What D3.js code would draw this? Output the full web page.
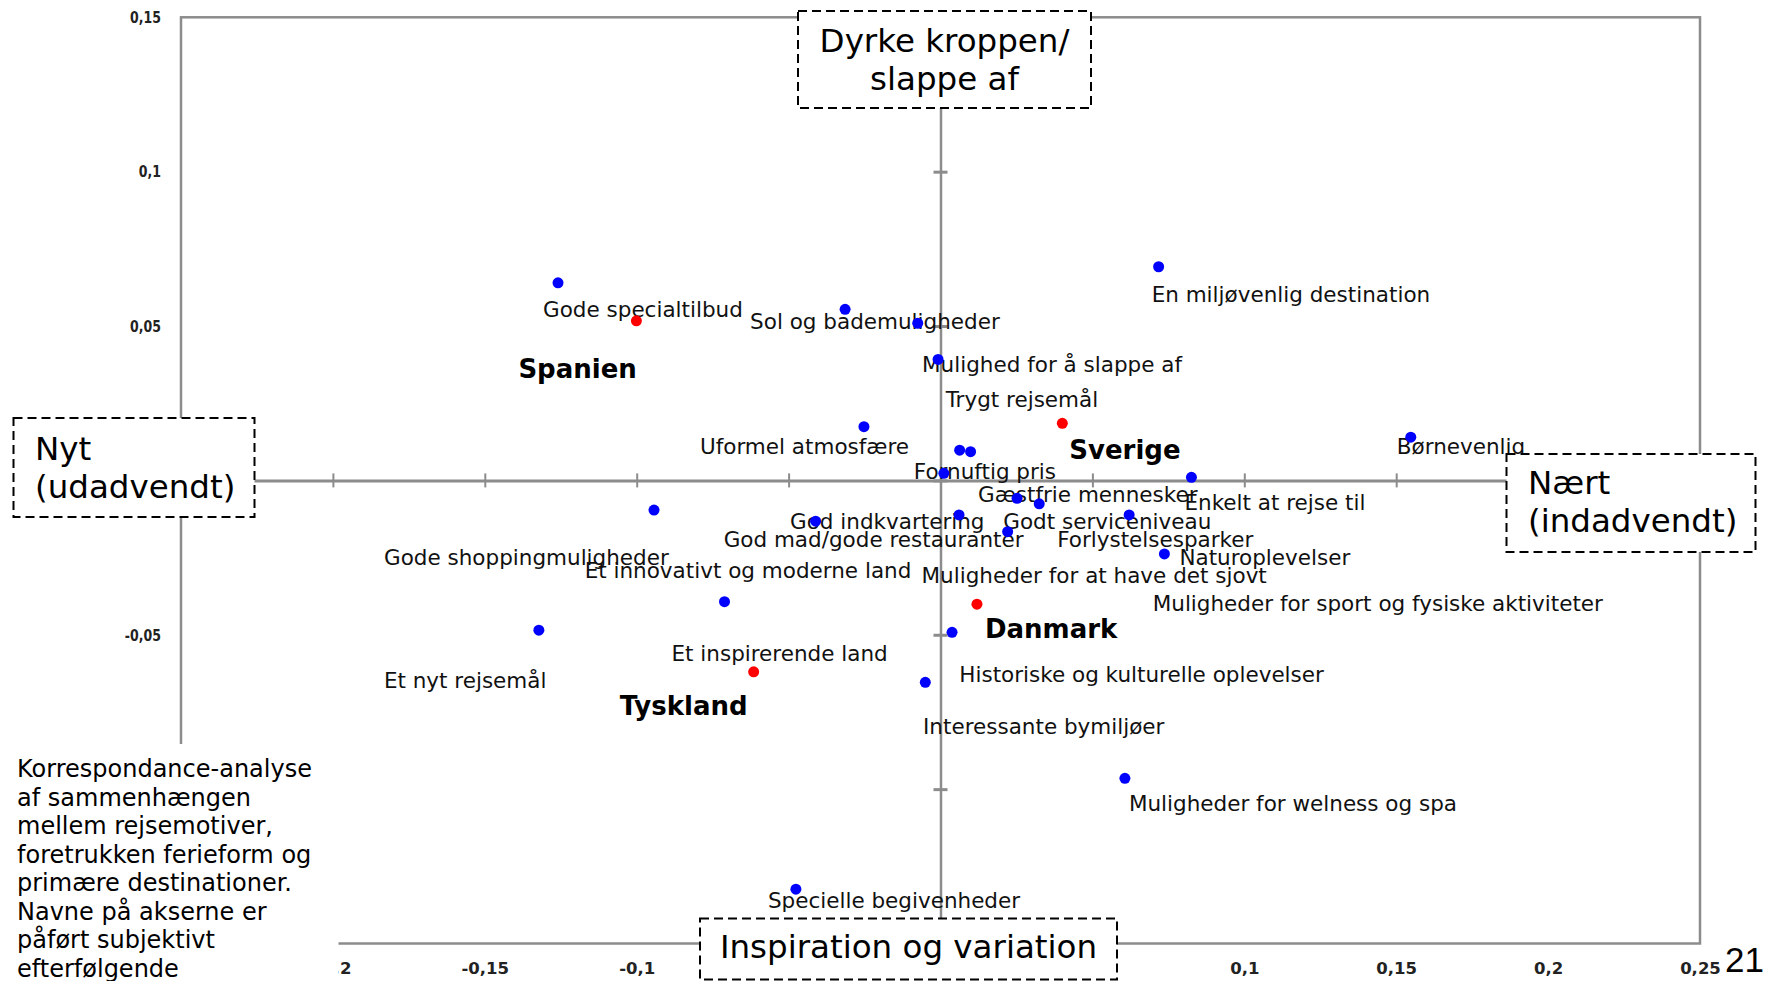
<!DOCTYPE html>
<html>
<head>
<meta charset="utf-8">
<script src="https://cdn.jsdelivr.net/npm/d3@7"></script>
<style>
body { margin: 0; background: #fff; }
text { font-family: "DejaVu Sans", Verdana, sans-serif; }
</style>
</head>
<body>
<svg id="chart" width="1771" height="981"></svg>
<script>
// rejsemotiver (blue points)
const motiveNames = [
    "Gode specialtilbud", "Sol og bademuligheder", "Mulighed for å slappe af",
    "En miljøvenlig destination", "Trygt rejsemål", "Uformel atmosfære",
    "Fornuftig pris", "Gæstfrie mennesker", "Enkelt at rejse til",
    "God indkvartering", "Godt serviceniveau", "God mad/gode restauranter",
    "Forlystelsesparker", "Naturoplevelser", "Gode shoppingmuligheder",
    "Et innovativt og moderne land", "Muligheder for at have det sjovt",
    "Muligheder for sport og fysiske aktiviteter", "Et inspirerende land",
    "Et nyt rejsemål", "Historiske og kulturelle oplevelser",
    "Interessante bymiljøer", "Muligheder for welness og spa",
    "Specielle begivenheder", "Børnevenlig"
];
const motiveX = [-0.1259, -0.0314, -0.0008, 0.0718, 0.0063, -0.0252, 0.0011, 0.0252, 0.0826,
    0.0061, 0.0325, 0.0221, 0.0621, 0.0737, -0.0943, -0.0411, 0.0099, -0.0075, -0.0711,
    -0.1322, -0.0050, 0.0038, 0.0607, -0.0476, 0.1548];
const motiveY = [0.0640, 0.0554, 0.0392, 0.0692, 0.0098, 0.0174, 0.0023, -0.0058, 0.0010,
    -0.0112, -0.0076, -0.0166, -0.0112, -0.0238, -0.0096, -0.0132, 0.0093, 0.0509, -0.0393,
    -0.0485, -0.0654, -0.0492, -0.0965, -0.1324, 0.0140];

// destinationer (red points)
const countryNames = ["Spanien", "Sverige", "Danmark", "Tyskland"];
const countryX = [-0.1001, 0.0401, 0.0120, -0.0615];
const countryY = [0.0517, 0.0185, -0.0401, -0.0620];

const xTicks = [-0.25, -0.2, -0.15, -0.1, -0.05, 0, 0.05, 0.1, 0.15, 0.2, 0.25];
const yTicks = [-0.15, -0.1, -0.05, 0, 0.05, 0.1, 0.15];

// label placement, pixels from the point
const motiveLabelOffset = [[-15, 34], [-95, 20], [-16, 13], [-7, 35], [-14, -43], [-164, 27],
    [-30, 6], [-39, 4], [-7, 33], [-169, 14], [-36, 25], [-284, 15], [-72, 32], [15, 11],
    [-270, 55], [-231, 57], [-49, 131], [235, 288], [-53, 59], [-155, 58], [34, 0],
    [-29, 102], [4, 33], [-28, 19], [-14, 17]];
const countryLabelOffset = [[-118, 57], [7, 36], [8, 34], [-134, 43]];

const noteLines = ["Korrespondance-analyse", "af sammenhængen", "mellem rejsemotiver,",
    "foretrukken ferieform og", "primære destinationer.", "Navne på akserne er",
    "påført subjektivt", "efterfølgende"];

const svg = d3.select('#chart');
const grey = '#8c8c8c';

const x = d3.scaleLinear().domain([-0.25, 0.25]).range([181, 1700]);
const y = d3.scaleLinear().domain([-0.15, 0.15]).range([943.5, 17.3]);

const locale = d3.formatLocale({decimal: ",", thousands: ".", grouping: [3], currency: ["", ""], minus: "-"});
const fmt = locale.format(".2~f");

// frame
svg.append('rect')
    .attr('x', x(-0.25)).attr('y', y(0.15))
    .attr('width', x(0.25) - x(-0.25)).attr('height', y(-0.15) - y(0.15))
    .attr('fill', 'none').attr('stroke', grey).attr('stroke-width', 2.5);

// axes through zero
const hAxis = svg.append('g')
    .attr('transform', 'translate(0,' + y(0) + ')')
    .call(d3.axisBottom(x).tickValues(xTicks).tickSizeOuter(0).tickFormat(''));
hAxis.select('.domain').attr('stroke', grey).attr('stroke-width', 3);
hAxis.selectAll('.tick line').attr('y1', -7).attr('y2', 7).attr('stroke', grey).attr('stroke-width', 2);

const vAxis = svg.append('g')
    .attr('transform', 'translate(' + x(0) + ',0)')
    .call(d3.axisLeft(y).tickValues(yTicks).tickSizeOuter(0).tickFormat(''));
vAxis.select('.domain').attr('stroke', grey).attr('stroke-width', 2.5);
vAxis.selectAll('.tick line').attr('x1', -7).attr('x2', 7).attr('stroke', grey).attr('stroke-width', 3);

// tick labels
const styleTicks = g => {
    g.select('.domain').remove();
    g.selectAll('text')
        .style('font-family', '"DejaVu Sans", Verdana, sans-serif')
        .style('font-size', '16.5px').style('font-weight', 'bold').attr('fill', '#222');
};
svg.append('g')
    .attr('transform', 'translate(0,' + y(-0.15) + ')')
    .call(d3.axisBottom(x).tickValues(xTicks).tickSize(0).tickPadding(19).tickFormat(fmt))
    .call(styleTicks);
svg.append('g')
    .attr('transform', 'translate(' + x(-0.25) + ',0)')
    .call(d3.axisLeft(y).tickValues(yTicks).tickSize(0).tickPadding(20).tickFormat(fmt))
    .call(styleTicks)
    .selectAll('text')
    .each(function () {
        // the vertical labels are narrow in the original
        const w = this.getComputedTextLength();
        d3.select(this).attr('textLength', w * 0.76).attr('lengthAdjust', 'spacingAndGlyphs');
    });

// labels
svg.append('g').selectAll('text')
    .data(motiveNames)
    .enter()
    .append('text')
    .attr('x', (d, i) => x(motiveX[i]) + motiveLabelOffset[i][0])
    .attr('y', (d, i) => y(motiveY[i]) + motiveLabelOffset[i][1])
    .attr('font-size', 21.5)
    .attr('fill', '#111')
    .text(d => d);

svg.append('g').selectAll('text')
    .data(countryNames)
    .enter()
    .append('text')
    .attr('x', (d, i) => x(countryX[i]) + countryLabelOffset[i][0])
    .attr('y', (d, i) => y(countryY[i]) + countryLabelOffset[i][1])
    .attr('font-size', 26)
    .attr('font-weight', 'bold')
    .attr('fill', '#000')
    .text(d => d);

// points
svg.append('g').selectAll('circle')
    .data(motiveNames)
    .enter()
    .append('circle')
    .attr('cx', (d, i) => x(motiveX[i]))
    .attr('cy', (d, i) => y(motiveY[i]))
    .attr('r', 5.5)
    .attr('fill', '#0000ff');

svg.append('g').selectAll('circle')
    .data(countryNames)
    .enter()
    .append('circle')
    .attr('cx', (d, i) => x(countryX[i]))
    .attr('cy', (d, i) => y(countryY[i]))
    .attr('r', 5.5)
    .attr('fill', '#ff0000');

// dashed axis name boxes
const boxes = [
    {x: 798, y: 11, w: 293, h: 97, anchor: 'middle', tx: 944.5, lines: ["Dyrke kroppen/", "slappe af"], base: 52},
    {x: 13.5, y: 418, w: 241, h: 99, anchor: 'start', tx: 35, lines: ["Nyt", "(udadvendt)"], base: 460},
    {x: 1506.5, y: 454, w: 249, h: 98, anchor: 'start', tx: 1528, lines: ["Nært", "(indadvendt)"], base: 494},
    {x: 700, y: 918.5, w: 417, h: 61, anchor: 'middle', tx: 908.5, lines: ["Inspiration og variation"], base: 958}
];
boxes.forEach(b => {
    const g = svg.append('g');
    g.append('rect')
        .attr('x', b.x).attr('y', b.y).attr('width', b.w).attr('height', b.h)
        .attr('fill', '#fff').attr('stroke', '#000').attr('stroke-width', 2)
        .attr('stroke-dasharray', '9,5');
    g.selectAll('text')
        .data(b.lines)
        .enter()
        .append('text')
        .attr('x', b.tx)
        .attr('y', (d, i) => b.base + i * 37.5)
        .attr('text-anchor', b.anchor)
        .attr('font-size', 32.5)
        .attr('fill', '#000')
        .text(d => d);
});

// note in the corner
svg.append('rect').attr('x', 0).attr('y', 744).attr('width', 338.5).attr('height', 237).attr('fill', '#fff');
svg.append('g').selectAll('text')
    .data(noteLines)
    .enter()
    .append('text')
    .attr('x', 17)
    .attr('y', (d, i) => 777 + i * 28.5)
    .attr('font-size', 24)
    .attr('fill', '#000')
    .text(d => d);

svg.append('text')
    .attr('x', 1725).attr('y', 972)
    .style('font-family', '"Liberation Sans", Arial, sans-serif')
    .attr('font-size', 35)
    .text('21');
</script>
</body>
</html>
